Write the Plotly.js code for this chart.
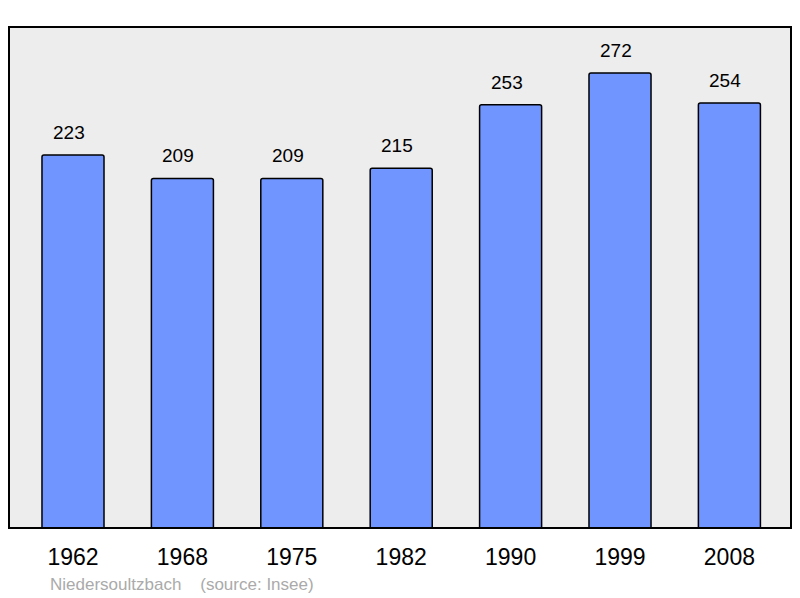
<!DOCTYPE html>
<html><head><meta charset="utf-8">
<script src="https://cdn.plot.ly/plotly-3.0.1.min.js"></script>
<style>html,body{margin:0;padding:0;background:#fff}#c{width:800px;height:598px}</style>
</head><body><div id="c"></div>
<script>
const years = ["1962","1968","1975","1982","1990","1999","2008"];
const population = [223,209,209,215,253,272,254];
const place = "Niedersoultzbach";
const source = "(source: Insee)";

const trace = {
  type: "bar", x: years, y: population,
  width: 0.567,
  marker: {color: "#7095FF", line: {color: "#000", width: 1.5}, cornerradius: 2},
  hoverinfo: "none"
};
const annotations = years.map((y,i)=>({
  x: i, y: population[i], xref:"x", yref:"y", text: String(population[i]),
  showarrow:false, yanchor:"bottom", yshift: 10, xshift: -4,
  font:{family:"Liberation Sans, Arial, sans-serif", size:19, color:"#000"}
}));
annotations.push({
  xref:"paper", yref:"paper", x:0.0505, y:-0.112, xanchor:"left", yanchor:"middle",
  text: place + "    " + source, showarrow:false,
  font:{family:"Liberation Sans, Arial, sans-serif", size:17, color:"#aaaaaa"}
});
const layout = {
  width:800, height:598,
  margin:{l:9,r:9,t:27,b:70},
  paper_bgcolor:"#fff", plot_bgcolor:"#ededed",
  showlegend:false,
  xaxis:{type:"category", range:[-0.585,6.563], showgrid:false, zeroline:false, showline:false,
    ticks:"", tickfont:{family:"Liberation Sans, Arial, sans-serif", size:23, color:"#000"}, ticklabelstandoff: 13},
  yaxis:{range:[0,299.5], showgrid:false, zeroline:false, showline:false, showticklabels:false, ticks:""},
  annotations: annotations,
  shapes:[{type:"rect", xref:"paper", yref:"paper", x0:0, x1:1, y0:0, y1:1,
    line:{color:"#000", width:2}, fillcolor:"rgba(0,0,0,0)", layer:"above"}]
};
Plotly.newPlot("c",[trace],layout,{staticPlot:true});
</script></body></html>
